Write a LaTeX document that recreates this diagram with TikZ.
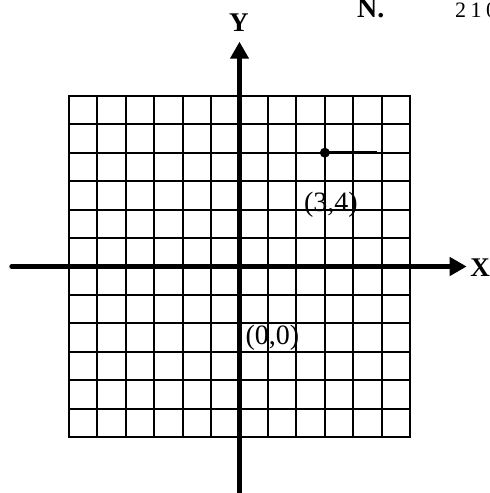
\documentclass[tikz,border=0pt]{standalone}
\usepackage{fontspec}
\setmainfont{Liberation Serif}
\usetikzlibrary{arrows.meta}
\begin{document}
\begin{tikzpicture}[x=28.45pt,y=28.45pt,
  gridline/.style={line width=2.1pt, line cap=rect},
  axisline/.style={line width=4.8pt,-{Triangle[length=17pt,width=18pt]}},
  coordlabel/.style={font=\fontsize{28}{30}\selectfont, inner sep=0pt},
  axislabel/.style={font=\bfseries\fontsize{27}{30}\selectfont, inner sep=0pt}]
\useasboundingbox (-239.5pt,-226.5pt) rectangle (250.5pt,266.5pt);
\fill[white] (-239.5pt,-226.5pt) rectangle (250.5pt,266.5pt);
% grid
\foreach \k in {-6,...,6} {
  \draw[gridline] (\k,-6) -- (\k,6);
  \draw[gridline] (-6,\k) -- (6,\k);
}
% axes
\coordinate (xs) at (-227.8pt,0);
\coordinate (xe) at (227.2pt,0);
\coordinate (ys) at (0,-232pt);
\coordinate (ye) at (0,224.8pt);
\draw[axisline,line cap=round] (xs) -- (xe);
\draw[axisline] (ys) -- (ye);
\node[axislabel] (ylab) at (-0.5pt,244pt) {Y};
\node[axislabel] (xlab) at (240.5pt,-1.5pt) {X};
% point
\node[circle, fill=black, inner sep=0pt, minimum size=10pt] (p) at (3,4) {};
\coordinate (pe) at (4.82,4);
\draw[line width=3pt] (p.center) -- (pe);
% labels
\node[coordlabel] (l34) at (91.5pt,62pt) {(3,4)};
\node[coordlabel] (l00) at (33pt,-71pt) {(0,0)};
% header fragments
\node[anchor=base west, font=\bfseries\fontsize{28}{30}\selectfont, inner sep=0pt] (qn) at (117.5pt,248.5pt) {N.};
\node[anchor=base west, font=\fontsize{22}{24}\selectfont\addfontfeatures{LetterSpace=20}, inner sep=0pt] (pg) at (215.5pt,248.5pt) {210};
\end{tikzpicture}
\end{document}
